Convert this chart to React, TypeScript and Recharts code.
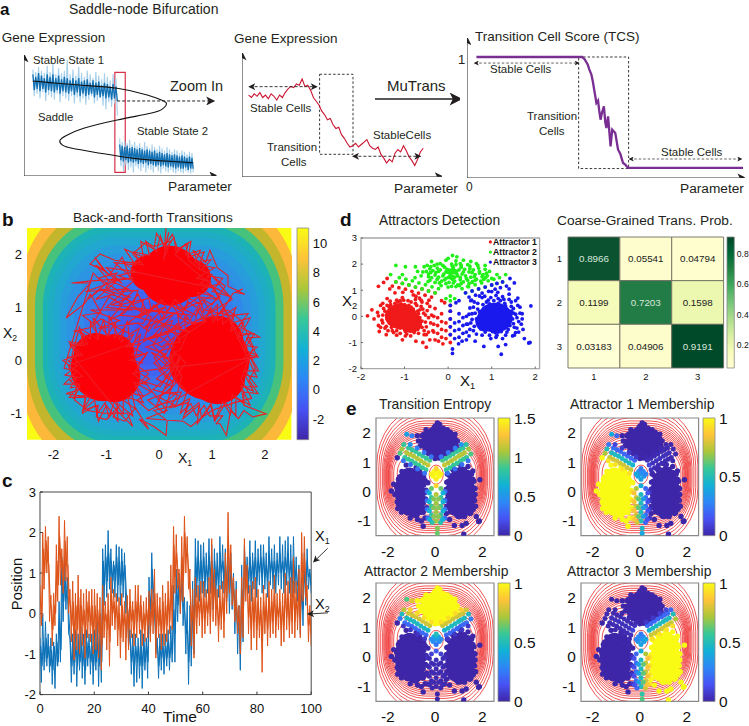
import React from "react";
import { ReferenceArea, Scatter, ScatterChart, XAxis, YAxis } from "recharts";

// panel a
const sCurve = [
  [4.6, 78.5], [15, 77], [30, 75], [48.4, 72.5], [64, 67], [71, 63], [74, 60], [72, 55.5], [65.7, 51.8], [48.4, 46.3],
  [31, 39.4], [22, 33.5], [18.6, 29.2], [20, 25.5], [25, 22.9], [39.7, 18.8], [57, 14.6], [75, 12.2], [87.9, 11],
];
const stateOneLight = [88, 66, 86, 68, 90, 64, 87, 69, 85, 62, 91, 67, 86, 65, 93, 63, 84, 68, 89, 61, 85, 66, 87, 64, 96, 62, 84, 66, 88, 60, 83, 65, 90, 61, 85, 64, 82, 59, 87, 63, 84, 66, 81, 60, 86, 62, 83, 65, 80, 58, 85, 55, 82, 61, 79, 57, 84, 60, 81, 50];
const stateOneDark = [84, 71, 82, 72, 85, 70, 83, 72, 81, 69, 84, 71, 82, 70, 84, 69, 81, 71, 83, 68, 80, 70, 82, 69, 81, 68, 79, 70, 81, 67, 79, 69, 81, 66, 78, 68, 79, 66, 80, 67, 77, 68, 79, 65, 77, 67, 78, 65, 75, 66, 77, 64, 76, 65, 74, 63, 76, 64, 74, 62];
const stateTwoLight = [31, 8, 28, 4, 29, 9, 27, 5, 30, 7, 26, 3, 28, 8, 25, 6, 27, 4, 24, 7, 28, 3, 25, 6, 23, 5, 26, 3, 24, 7, 22, 4, 25, 2, 23, 6, 21, 4, 24, 3, 22, 5, 20, 3, 22, 2, 21, 4, 19, 3, 21, 2, 20, 4, 18, 3, 20, 2, 19, 3];
const stateTwoDark = [26, 13, 25, 12, 24, 13, 25, 11, 23, 12, 24, 11, 23, 12, 22, 10, 23, 11, 22, 10, 21, 11, 22, 9, 21, 10, 20, 9, 21, 8, 19, 9, 20, 8, 19, 9, 18, 8, 19, 7, 18, 8, 17, 7, 18, 6, 17, 7, 16, 6, 17, 6, 16, 7, 15, 5, 16, 6, 15, 6];
const geneTrace = [66, 64, 67, 65, 68, 64, 66, 63, 67, 65, 62, 66, 64, 68, 71, 73, 72, 75, 74, 79, 73, 74, 70, 64, 61, 58, 53, 50, 46, 47, 42, 39, 40, 34, 31, 27, 24, 25, 27, 24, 26, 28, 30, 25, 23, 22, 24, 18, 15, 11, 14, 12, 19, 22, 20, 25, 21, 16, 13, 9, 14, 20, 23];
const tcsX = [3.4, 40.2, 41.5, 42.4, 43.5, 44, 44.8, 45.3, 46, 46.6, 47.2, 47.6, 48.1, 48.6, 49.3, 49.8, 50.2, 50.8, 51.2, 51.7, 52.3, 53.4, 54.4, 55.2, 56.2, 57, 58, 99.4];
const tcsY = [1, 1, 1, 0.98, 0.937, 0.9, 0.854, 0.8, 0.702, 0.62, 0.64, 0.56, 0.482, 0.54, 0.592, 0.46, 0.413, 0.51, 0.4, 0.262, 0.4, 0.372, 0.234, 0.2, 0.124, 0.11, 0.083, 0.083];

// panel b
const bandHalfX = [2.66, 2.5, 2.35, 2.2, 2.1, 2.0, 1.88, 1.75, 1.6, 1.42, 1.22, 1.0, 0.75, 0.45];
const bandHalfY = [2.62, 2.4, 2.2, 2.05, 1.93, 1.82, 1.68, 1.52, 1.35, 1.18, 1.0, 0.8, 0.6, 0.35];
const bandColors = ["#fbb83a", "#c3b52c", "#47c27c", "#1db3b6", "#1eadc3", "#21a7d0", "#279edb", "#2c94e3", "#3089ea", "#367cee", "#3b70f1", "#4065f2", "#435cf0", "#4654ee"];
const potentialTicks = [-2, 0, 2, 4, 6, 8, 10];
const blobs = [
  { x: -1.05, y: -0.15, r: 33 }, { x: -0.85, y: -0.3, r: 26 }, { x: -1.2, y: 0.1, r: 22 }, { x: -0.85, y: 0.12, r: 20 },
  { x: 0.95, y: 0, r: 40 }, { x: 1.1, y: -0.3, r: 28 }, { x: 1.1, y: 0.35, r: 26 }, { x: 0.65, y: -0.1, r: 24 },
  { x: 0.2, y: 1.6, r: 30 }, { x: -0.2, y: 1.65, r: 18 }, { x: 0.62, y: 1.55, r: 19 }, { x: 0.15, y: 1.9, r: 14 },
];
const trajectory = [
  [0.13, 2.52], [0.1, 2.1], [0.18, 2.42], [0.08, 1.9], [0.22, 2.25], [-0.1, 2.15], [-0.25, 2.23], [-0.5, 2.01], [-0.3, 1.8], [-0.84, 1.89],
  [-1.12, 2.01], [-1.31, 1.82], [-1.05, 1.7], [-1.22, 1.95], [-0.95, 1.6], [-0.7, 1.95], [-0.55, 1.55], [-1.28, 1.5], [-1.66, 1.46], [-1.3, 1.46],
  [-1.54, 1.2], [-1.76, 0.8], [-1.41, 1.07], [-1.3, 1.25], [-1.1, 0.9], [-1.45, 0.85], [-1.25, 0.7], [-0.95, 1.2], [-0.7, 1.05], [-0.95, 0.75],
  [-0.65, 0.9], [-0.4, 1.25], [-0.25, 0.95], [-0.6, 0.7], [-0.3, 0.7], [-0.1, 1.05], [0.1, 0.85], [-0.1, 0.6], [0.25, 0.75], [0.15, 0.5],
  [-0.2, 0.4], [0.05, 0.25], [0.3, 0.45], [0.1, 0.05], [-0.15, 0.15], [0.2, -0.15], [-0.05, -0.35], [0.25, -0.5], [0, -0.7], [0.3, -0.85],
  [-0.1, -0.95], [0.15, -1.14], [0.13, -1.42], [-0.1, -1.25], [-0.38, -1.11], [-0.2, -1.3], [-0.45, -0.9], [-0.65, -1.15], [-0.87, -1.07], [-0.75, -0.85],
  [-1.0, -1.12], [-1.19, -1.07], [-1.15, -0.85], [-1.45, -0.95], [-1.3, -0.7], [-1.76, -0.63], [-1.5, -0.55], [-1.69, -0.38], [-1.45, -0.3], [-1.82, 0],
  [-1.55, 0.1], [-1.69, 0.31], [-1.48, 0.3], [-1.44, 0.5], [-1.6, 0.55], [-1.3, 0.62], [-1.1, 0.78], [-0.8, 0.62], [-0.55, 0.5], [-0.38, 0.6],
  [-0.5, 0.25], [-0.25, 0.1], [-0.42, -0.1], [-0.2, -0.25], [-0.4, -0.45], [-0.15, -0.6], [-0.42, -0.75], [-0.2, -0.95], [0.1, -0.8], [0.35, -0.6],
  [0.42, -0.3], [0.2, 0.1], [0.4, 0.2], [0.55, 0.55], [0.3, 0.62], [0.55, 0.8], [0.3, 1.05], [0.7, 0.85], [0.85, 1.12], [1.05, 0.8],
  [1.2, 0.94], [1.39, 1.26], [1.58, 1.35], [1.45, 1.28], [1.62, 1.25], [1.3, 1.4], [1.3, 1.6], [1.1, 1.75], [0.96, 2.08], [0.88, 1.85],
  [0.64, 2.08], [0.78, 1.7], [0.55, 1.9], [0.5, 2.2], [0.3, 2.0], [0.95, 1.45], [1.15, 1.2], [0.85, 0.95], [1.35, 0.85], [1.68, 0.88],
  [1.5, 0.65], [1.9, 0.44], [1.65, 0.42], [1.87, 0.06], [1.7, 0.1], [1.82, -0.15], [1.7, -0.38], [1.87, -0.63], [1.6, -0.6], [1.6, -0.85],
  [2.02, -1.01], [1.77, -1.07], [1.6, -0.95], [1.5, -1.1], [1.35, -0.95], [1.27, -1.42], [1.15, -1.2], [1.08, -1.2], [1.2, -1.05], [0.95, -1.05],
  [0.85, -0.85], [0.7, -1.05], [0.6, -0.82], [0.4, -1.0], [0.52, -0.6], [0.3, -0.35], [0.5, -0.05], [0.32, 0.12], [0.05, -0.15], [-0.1, 0.05],
  [0.18, 0.32], [-0.05, 0.5], [-0.3, 0.35], [-0.15, 0.82], [-0.4, 0.95], [-0.7, 1.25], [-0.9, 1.4], [-1.15, 1.55], [-0.8, 1.65], [-1.05, 1.3],
  [-0.5, 1.1], [-0.75, 0.85], [-0.35, 0.82], [0.05, 1.1], [0.4, 0.95], [0.75, 1.2], [1.0, 1.05], [1.25, 1.4], [1.0, 1.6], [1.38, 1.15],
  [0.6, 0.68], [0.9, 0.75], [0.38, 0.4], [0.12, 0.68], [-0.12, 0.28], [0.28, -0.1], [0.02, -0.5], [-0.28, -0.4], [0.15, -0.95], [-0.25, -1.1],
  [0.45, -1.15], [0.6, -1.25], [0.78, -1.1], [1.0, -0.95], [1.42, -0.8], [1.75, -0.72], [1.55, -0.35], [1.78, 0.25], [1.55, 0.75], [1.3, 0.95],
  [-1.72, -0.1], [-1.55, -0.45], [-1.6, -0.75], [-1.35, -0.95], [-1.05, -1.0], [-0.6, -1.0], [-0.5, -1.25], [-0.8, -0.95], [-1.65, 0.1], [-1.5, 0.65],
];
const trajectoryRim = [
  [-1.75, 0.05], [-1.45, 0.1], [-1.7, 0.35], [-1.35, 0.3], [-1.5, 0.6], [-1.15, 0.4], [-1.25, 0.8], [-0.95, 0.45], [-0.95, 0.85], [-0.75, 0.4],
  [-0.6, 0.75], [-0.55, 0.25], [-0.35, 0.5], [-0.45, 0.05], [-0.22, 0.15], [-0.45, -0.2], [-0.18, -0.35], [-0.45, -0.5], [-0.3, -0.8], [-0.6, -0.7],
  [-0.5, -1.05], [-0.8, -0.8], [-0.78, -1.15], [-1, -0.85], [-1.15, -1.15], [-1.2, -0.85], [-1.45, -1], [-1.4, -0.7], [-1.7, -0.7], [-1.5, -0.45],
  [-1.8, -0.45], [-1.55, -0.2], [-1.8, -0.15], [-1.25, 1.65], [-0.85, 1.25], [-1.2, 1.15], [-0.8, 1.5], [-1.4, 1.3], [-0.6, 1.35], [-1.0, 1.0],
  [-0.5, 0.95], [-1.3, 0.95], [-0.75, 0.75], [-1.15, 0.6], [-0.4, 0.7], [-0.2, 0.55], [-0.05, 0.78], [0.2, 0.55], [0.35, 0.7], [0.05, 0.35],
  [-0.25, 0.25], [0.12, 0.12], [-0.1, -0.05], [0.18, -0.3], [-0.12, -0.55], [0.12, -0.62], [-0.22, -0.75], [0.1, -1.0], [0.4, 0.1], [-0.05, -0.85],
  [0.3, -0.75], [1.85, 0.1], [1.6, 0.2], [1.8, 0.5], [1.55, 0.5], [1.72, 0.8], [1.35, 0.7], [1.45, 1], [1.1, 0.75], [1.1, 1.05],
  [0.85, 0.78], [0.75, 1.05], [0.55, 0.7], [0.35, 0.85], [0.4, 0.5], [0.12, 0.55], [0.28, 0.25], [0.02, 0.18], [0.25, -0.05], [0, -0.2],
  [0.25, -0.4], [0.05, -0.6], [0.35, -0.65], [0.2, -0.9], [0.55, -0.8], [0.45, -1.1], [0.75, -0.85], [0.72, -1.2], [0.98, -0.85], [1.05, -1.15],
  [1.25, -0.8], [1.45, -1.05], [1.45, -0.7], [1.72, -0.85], [1.55, -0.5], [1.85, -0.5], [1.62, -0.2], [1.88, -0.2], [0.95, 1.5], [0.7, 1.55],
  [1.05, 1.75], [0.75, 1.8], [0.85, 2.05], [0.55, 1.95], [0.6, 2.25], [0.35, 2.1], [0.25, 2.38], [0.1, 2.15], [-0.05, 2.4], [-0.1, 2.1],
  [-0.35, 2.25], [-0.3, 1.95], [-0.65, 2.1], [-0.45, 1.8], [-0.85, 1.85], [-0.5, 1.55], [-0.9, 1.5], [-0.5, 1.3], [-0.75, 1.05], [-0.3, 1.15],
  [-0.35, 0.85], [-0.05, 1.05], [0.05, 0.75], [0.25, 1.05], [0.4, 0.8], [0.55, 1.1], [0.85, 0.9], [0.75, 1.2], [1.1, 1.15], [0.8, 1.35], [1.15, 1.45],
];
const trajectoryFringe = [
  [-0.3, -0.05], [-0.55, 0], [-0.28, 0.12], [-0.52, 0.1], [-0.35, 0.32], [-0.62, 0.25], [-0.48, 0.5], [-0.72, 0.35], [-0.65, 0.62], [-0.85, 0.42],
  [-0.82, 0.72], [-1, 0.45], [-1.05, 0.78], [-1.15, 0.45], [-1.3, 0.72], [-1.3, 0.4], [-1.5, 0.55], [-1.42, 0.28], [-1.68, 0.28], [-1.52, 0.12],
  [-1.72, -0.02], [-1.55, -0.1], [-1.78, -0.28], [-1.55, -0.32], [-1.68, -0.52], [-1.5, -0.5], [-1.62, -0.72], [-1.38, -0.65], [-1.42, -0.92], [-1.22, -0.75],
  [-1.18, -1.02], [-1.02, -0.8], [-0.95, -1.08], [-0.85, -0.78], [-0.68, -1.02], [-0.68, -0.75], [-0.45, -0.92], [-0.52, -0.62], [-0.3, -0.68], [-0.48, -0.42],
  [-0.25, -0.45], [-0.5, -0.25], [-0.3, -0.2], [1.82, 0.05], [1.58, 0.02], [1.85, 0.25], [1.6, 0.28], [1.72, 0.52], [1.48, 0.42], [1.6, 0.72],
  [1.35, 0.55], [1.42, 0.88], [1.2, 0.68], [1.2, 0.98], [1.02, 0.72], [0.98, 1], [0.85, 0.75], [0.72, 0.95], [0.68, 0.68], [0.48, 0.82],
  [0.5, 0.55], [0.28, 0.6], [0.4, 0.35], [0.16, 0.3], [0.33, 0.12], [0.08, 0.02], [0.28, -0.18], [0.1, -0.32], [0.32, -0.42], [0.15, -0.62],
  [0.42, -0.6], [0.3, -0.88], [0.58, -0.72], [0.5, -1], [0.75, -0.8], [0.8, -1.08], [0.98, -0.82], [1.05, -1.12], [1.2, -0.78], [1.35, -1.02],
  [1.38, -0.65], [1.6, -0.82], [1.55, -0.48], [1.78, -0.58], [1.62, -0.28], [1.85, -0.32], [1.02, 1.4], [0.78, 1.45], [1, 1.62], [0.8, 1.7],
  [0.98, 1.9], [0.68, 1.85], [0.78, 2.08], [0.5, 2], [0.55, 2.22], [0.32, 2.05], [0.28, 2.32], [0.12, 2.1], [0.02, 2.35], [-0.05, 2.05],
  [-0.25, 2.25], [-0.18, 1.98], [-0.48, 2.05], [-0.35, 1.85], [-0.68, 1.85], [-0.45, 1.68], [-0.78, 1.6], [-0.48, 1.5], [-0.72, 1.3], [-0.4, 1.32],
  [-0.5, 1.05], [-0.2, 1.18], [-0.15, 0.95], [0.05, 1.15], [0.15, 0.92], [0.3, 1.15], [0.5, 0.95], [0.55, 1.18], [0.8, 1.05], [0.72, 1.28],
  [1, 1.22], [-0.3, 0.6], [0.1, 1], [-0.45, 0.82], [0.42, 0.62], [-0.15, 0.42], [0.28, 0.88], [-0.62, 0.98], [0.62, 0.85], [-0.9, 1.05],
  [-0.55, 1.2], [-1.1, 1.35], [-1.35, 1.15], [-0.95, 1.5], [-1.2, 1.8], [-0.7, 1.45], [-1, 1.75], [-0.6, 1.7], [1.1, 1.35], [1.35, 1.2],
  [1, 1.3], [1.2, 1.55], [0.9, 1.6],
];

// panel c: two envelope readings per time step, then the tighter inner band
const x1Trace = [
  -0.6, -1.7, 0, -1.4, -0.2, -1.3, -0.5, -1.45, -0.6, -1.75, -0.7, -1.85, -0.5, -1.3, 0.3, -1.2, 1.4, -0.2, 1.25, 0.1,
  0.9, -0.5, -0.6, -1.7, -0.5, -1.5, -0.4, -1.8, -0.5, -1.4, -0.3, -1.6, -0.5, -1.75, -0.4, -1.3, -0.5, -1.5, -0.5, -1.75,
  -0.4, -1.4, -0.2, -1.8, -0.3, -1.7, 1.6, 0.2, 1.7, 0.4, 2.05, 0.6, 1.6, 0.5, 1.3, 0.4, 1.7, 0.3, 1.65, 0.2,
  1.6, 0.4, 1.5, 0, 0.4, -0.8, -0.4, -1.5, -0.5, -1.8, -0.5, -1.7, -0.6, -1.6, -0.4, -1.85, -0.5, -1.4, -0.6, -1.6,
  0.9, -0.5, 1.5, 0.2, 0.3, -1, -0.6, -1.6, -0.5, -1.4, -0.5, -1.5, -0.5, -1.3, -0.4, -1.4, -0.3, -1.2, 0.7, -1.2,
  1.1, -0.2, 1, 0, 1.2, -0.3, 0.4, -1, 0.3, -1.75, 0.2, -1.3, 0.8, -1, 1.85, 0.4, 1.8, 0.3, 1.7, 0.5,
  1.75, 0.4, 1.5, 0.5, 1.85, 0.5, 1.7, 0.1, 1.6, 0.3, 1.5, 0.4, 1.9, 0.6, 1.7, 0.5, 1.6, 0.3, 1.4, 0,
  1.5, 0.1, 1, -0.5, 0.8, -1, 0.2, -1.4, 1.2, -0.7, 1.7, 0.6, 1.4, 0.5, 1.8, 0.3, 1.5, 0.6, 1.8, 0.4,
  1.6, 0.7, 1.7, 0.5, 1.7, 0.6, 1.5, 0.4, 1.9, 0.7, 1.6, 0.6, 1.7, 0.5, 1.5, 0.7, 1.9, 0.6, 1.7, 0.5,
  1.8, 0.7, 1.9, 0.5, 1.7, 0.4, 1.9, 0.5, 1.4, 0.3, 1.2, -0.5, 0.9, -0.3, 1.5, 0.2, 1.6, 0.6, 1.1, 0.5,
];
const x1Inner = [
  -0.8, -1.3, -0.7, -1.2, -0.6, -1.1, -0.8, -1.3, -0.9, -1.4, -0.8, -1.3, -0.7, -1.2, -0.2, -0.9, 0.9, 0.3, 0.9, 0.4,
  0.4, -0.2, -0.8, -1.3, -0.7, -1.2, -0.8, -1.3, -0.8, -1.2, -0.7, -1.3, -0.8, -1.4, -0.7, -1.1, -0.8, -1.2, -0.8, -1.3,
  -0.7, -1.2, -0.7, -1.3, -0.7, -1.2, 1.3, 0.7, 1.4, 0.8, 1.5, 0.9, 1.3, 0.8, 1.2, 0.8, 1.4, 0.7, 1.3, 0.7,
  1.3, 0.8, 1.2, 0.5, 0.1, -0.4, -0.7, -1.2, -0.8, -1.3, -0.8, -1.2, -0.8, -1.3, -0.8, -1.3, -0.7, -1.2, -0.8, -1.2,
  0.5, 0.1, 1.1, 0.6, -0.1, -0.6, -0.8, -1.3, -0.8, -1.1, -0.8, -1.2, -0.8, -1.1, -0.7, -1.1, -0.7, -1, 0.1, -0.5,
  0.7, 0.2, 0.7, 0.3, 0.8, 0.2, 0, -0.5, -0.4, -1.2, -0.3, -0.9, 0.2, -0.4, 1.4, 0.8, 1.4, 0.8, 1.3, 0.8,
  1.4, 0.8, 1.2, 0.8, 1.4, 0.9, 1.3, 0.6, 1.3, 0.7, 1.2, 0.7, 1.5, 1, 1.3, 0.9, 1.2, 0.7, 1, 0.5,
  1.1, 0.6, 0.6, 0.1, 0.2, -0.4, -0.4, -1, 0.6, 0, 1.4, 0.9, 1.2, 0.8, 1.4, 0.8, 1.3, 0.9, 1.4, 0.8,
  1.3, 1, 1.4, 0.9, 1.4, 0.9, 1.2, 0.8, 1.5, 1, 1.3, 0.9, 1.3, 0.9, 1.3, 1, 1.5, 1, 1.3, 0.9,
  1.4, 1, 1.5, 0.9, 1.3, 0.8, 1.4, 0.9, 1.1, 0.7, 0.7, 0, 0.5, 0.1, 1.1, 0.6, 1.3, 0.9, 1, 0.7,
];
const x2Trace = [
  0.7, -0.3, 2, 0.6, 2.15, 1, 1.9, -0.2, 0.45, -0.8, 0.5, -0.3, 1.7, 0.3, 2.4, 0.7, 1.6, 0.5, 2.3, 0.8,
  1.9, 0, 0.6, -0.7, 0.8, -1.15, 0.5, -0.9, 0.95, -1, 0.6, -0.8, 0.5, -1.1, 0.6, -0.6, 0.55, -0.7, 0.6, -1,
  0.6, -0.9, 0.5, -1.1, 0.4, -1.4, 0.7, -0.6, 0.3, -0.9, 0.5, -1.3, 0.9, -0.3, 0.6, -0.4, 0.5, -0.8, 0.4, -1.1,
  0.5, -0.7, 0.3, -1.15, 0.45, -0.9, 0.6, -0.6, 0.3, -0.8, 0.7, -0.6, 0.7, -0.5, 0.45, -0.8, 0.3, -0.7, 0.4, -0.6,
  0.55, -0.7, 0.6, -0.5, 1.1, -1.1, 0.5, -0.6, 0.4, -0.9, 0.7, -0.8, 0.5, -0.7, 0.8, -0.5, 1.2, -0.4, 2.15, 0.5,
  1.95, 0.6, 1.1, 0, 1.9, 0.3, 2.4, 1, 1.9, 0.6, 1.1, -0.8, 0.6, -1.1, 0.9, -0.5, 0.7, -0.3, 0.8, -0.6,
  0.8, -0.5, 0.6, -0.3, 0.9, -0.5, 1.85, -0.2, 1.1, -0.3, 0.6, -0.7, 0.7, -0.4, 0.8, -0.6, 1.5, 0, 2.5, 0.5,
  1.7, 0.2, 0.9, -0.2, 0.6, -0.5, 0.2, -1, 0.9, -0.6, 1.85, 0.3, 1.2, -0.5, 0.7, -0.9, 0.8, -0.6, 0.9, -0.9,
  0.6, -0.6, 0.4, -1.45, 0.7, -0.5, 0.5, -0.8, 0.8, -0.6, 0.6, -0.5, 0.95, -0.6, 0.5, -0.4, 0.6, -0.8, 0.5, -0.7,
  1, -0.4, 0.8, -0.6, 0.9, -0.5, 1.4, -0.6, 0.8, -0.4, 1.1, -0.6, 2, 0.3, 1.9, 0.4, 0.7, -0.7, 0.2, -0.8,
];
const x2Inner = [
  0.3, -0.1, 1.6, 1, 1.8, 1.3, 1.2, 0.3, 0.1, -0.4, 0.2, 0, 1.3, 0.7, 1.9, 1.1, 1.3, 0.8, 1.8, 1.2,
  1.2, 0.4, 0.2, -0.3, 0.3, -0.6, 0.2, -0.4, 0.4, -0.5, 0.2, -0.3, 0.1, -0.5, 0.3, -0.2, 0.2, -0.3, 0.2, -0.5,
  0.2, -0.4, 0.1, -0.5, 0, -0.8, 0.3, -0.2, 0, -0.4, 0.1, -0.7, 0.5, 0, 0.3, -0.1, 0.2, -0.4, 0, -0.6,
  0.2, -0.3, 0, -0.6, 0.1, -0.4, 0.3, -0.2, 0.1, -0.4, 0.3, -0.2, 0.3, -0.2, 0.2, -0.4, 0, -0.3, 0.1, -0.3,
  0.2, -0.3, 0.3, -0.2, 0.5, -0.5, 0.2, -0.3, 0.1, -0.5, 0.3, -0.4, 0.2, -0.3, 0.4, -0.2, 0.7, 0, 1.7, 0.9,
  1.5, 1, 0.7, 0.3, 1.4, 0.8, 2, 1.4, 1.5, 1, 0.5, -0.2, 0.2, -0.6, 0.5, -0.1, 0.3, 0, 0.4, -0.2,
  0.4, -0.1, 0.3, 0, 0.5, -0.1, 1.2, 0.3, 0.7, 0.1, 0.2, -0.3, 0.3, -0.1, 0.4, -0.2, 1, 0.4, 1.9, 1,
  1.2, 0.6, 0.5, 0.1, 0.2, -0.2, -0.1, -0.6, 0.4, -0.2, 1.4, 0.7, 0.7, -0.1, 0.3, -0.4, 0.4, -0.2, 0.4, -0.4,
  0.3, -0.3, 0.1, -0.7, 0.3, -0.2, 0.2, -0.4, 0.4, -0.3, 0.3, -0.2, 0.5, -0.3, 0.2, -0.1, 0.3, -0.4, 0.2, -0.3,
  0.6, -0.1, 0.4, -0.3, 0.5, -0.2, 0.8, -0.2, 0.4, -0.1, 0.6, -0.2, 1.5, 0.7, 1.4, 0.8, 0.3, -0.3, -0.1, -0.5,
];

// panels d and e: cell positions
const cellsA1 = [
  [-1.85, 0.02], [-1.75, 0.25], [-1.7, -0.1], [-1.62, 0.15], [-1.6, -0.35], [-1.58, -0.58], [-1.55, 0.42], [-1.52, -0.15], [-1.5, 0.05], [-1.48, 0.3],
  [-1.45, -0.45], [-1.42, -0.7], [-1.6, 1.15], [-1.4, 0.68], [-1.38, 0.12], [-1.35, -0.25], [-1.32, 0.45], [-1.3, -0.05], [-1.28, -0.55], [-1.25, 0.25],
  [-1.22, 0.9], [-1.22, -0.3], [-1.2, 0.05], [-1.18, -0.72], [-1.15, 0.55], [-1.15, -0.12], [-1.12, 0.32], [-1.1, -0.45], [-1.08, 0.12], [-1.05, -0.9],
  [-1.05, 0.72], [-1.03, -0.22], [-1, 0.45], [-1, 0.02], [-0.98, -0.58], [-0.96, 0.22], [-0.95, -0.08], [-0.92, 0.6], [-0.9, -0.35], [-0.88, 0.1],
  [-0.86, -0.75], [-0.85, 0.35], [-0.82, -0.18], [-0.8, 0.82], [-0.8, -0.48], [-0.78, 0.05], [-0.75, 0.5], [-0.74, -0.95], [-0.72, -0.28], [-0.7, 0.2],
  [-0.68, -0.65], [-0.66, 0.7], [-0.65, -0.05], [-0.62, 0.38], [-0.6, -0.42], [-0.58, -1], [-0.56, 0.12], [-0.52, -0.22], [-0.5, -1.18], [-0.5, -0.7],
  [-0.48, 0.5], [-0.45, -0.05], [-0.42, -0.9], [-1.25, -0.15], [-1.2, 0.4], [-1.1, -0.02], [-1.1, 0.6], [-1.05, 0.2], [-1.02, -0.4], [-0.95, 0.32],
  [-0.9, -0.2], [-0.9, 0.42], [-0.85, -0.05], [-0.82, 0.22], [-0.78, -0.32], [-0.72, 0.05], [-0.7, -0.15], [-0.65, 0.25], [-1.35, 0.35], [-1.18, -0.55],
  [-0.98, -0.75], [-0.75, 0.65], [-1.4, -0.1], [-1.3, 0.18], [-1.15, 0.2], [-1, -0.15], [-0.92, 0.02], [-0.8, 0.12], [-0.55, -0.55], [-0.6, 0.55],
  [-1.5, -0.25], [-1.45, 0.2], [-1.42, -0.38], [-1.4, 0.42], [-1.38, -0.55], [-1.35, -0.1], [-1.33, 0.58], [-1.3, -0.42], [-1.28, 0.3], [-1.25, -0.62],
  [-1.22, 0.5], [-1.2, -0.2], [-1.18, 0.62], [-1.15, -0.42], [-1.12, 0.15], [-1.1, -0.65], [-1.08, 0.48], [-1.05, -0.12], [-1.02, 0.62], [-1, -0.5],
  [-0.98, 0.12], [-0.95, -0.68], [-0.92, 0.35], [-0.9, -0.1], [-0.88, -0.55], [-0.85, 0.55], [-0.82, -0.38], [-0.8, 0.28], [-0.78, -0.62], [-0.75, -0.15],
  [-0.72, 0.42], [-0.7, -0.5], [-0.68, 0.1], [-0.65, -0.35], [-0.62, 0.62], [-0.6, -0.18], [-0.58, 0.28], [-0.55, -0.7], [-0.52, 0.05], [-0.5, -0.4],
  [-0.48, 0.22], [-0.45, -0.6], [-0.42, 0.38], [-0.4, -0.25], [-0.38, 0.05], [-0.35, -0.55], [-1.6, 0.02], [-1.55, -0.42], [-1.5, 0.5], [-0.3, 0.3],
];
const cellsA2 = [
  [0.1, 2.33], [0.2, 2.28], [0, 2.22], [-0.05, 2.15], [0.18, 2.12], [0.35, 2.15], [0.52, 2.1], [-0.38, 2.1], [-0.32, 1.95], [-0.18, 2.02],
  [0.08, 2], [0.28, 2.02], [0.45, 1.98], [0.65, 2.02], [-0.55, 1.9], [-0.42, 1.82], [-0.25, 1.85], [-0.08, 1.88], [0.12, 1.85], [0.3, 1.88],
  [0.5, 1.82], [0.7, 1.85], [0.85, 1.8], [-0.7, 1.72], [-0.58, 1.7], [-0.4, 1.68], [-0.22, 1.72], [-0.05, 1.7], [0.15, 1.72], [0.35, 1.7],
  [0.55, 1.68], [0.72, 1.66], [-0.62, 1.55], [-0.45, 1.52], [-0.3, 1.58], [-0.12, 1.55], [0.05, 1.58], [0.22, 1.55], [0.4, 1.55], [0.6, 1.52],
  [0.78, 1.52], [-0.42, 1.38], [-0.25, 1.42], [-0.08, 1.4], [0.1, 1.42], [0.28, 1.4], [0.45, 1.38], [0.62, 1.38], [-0.2, 1.28], [-0.05, 1.25],
  [0.12, 1.28], [0.3, 1.26], [0.48, 1.25], [0, 1.12], [0.18, 1.14], [0.88, 1.65], [-0.75, 1.9], [0.85, 1.95],
  [-0.5, 1.72], [-0.48, 1.95], [-0.45, 1.62], [-0.4, 1.9], [-0.38, 1.48], [-0.35, 1.75], [-0.3, 1.3], [-0.28, 1.68], [-0.25, 2], [-0.22, 1.5],
  [-0.18, 1.78], [-0.15, 1.35], [-0.12, 1.95], [-0.1, 1.62], [-0.05, 1.45], [-0.02, 1.8], [0.02, 1.3], [0.05, 1.68], [0.08, 1.15], [0.1, 1.92],
  [0.12, 1.5], [0.15, 1.35], [0.18, 1.98], [0.2, 1.62], [0.22, 1.2], [0.25, 1.78], [0.28, 1.48], [0.3, 1.95], [0.32, 1.62], [0.35, 1.32],
  [0.38, 1.8], [0.42, 1.45], [0.45, 1.15], [0.48, 1.7], [0.5, 1.92], [0.52, 1.5], [0.55, 1.3], [0.58, 1.78], [0.62, 1.6], [0.65, 1.42],
  [0.68, 1.95], [0.72, 1.72], [0.75, 1.35], [0.8, 1.6], [0.82, 1.42], [0.9, 1.55], [0.95, 1.72], [1, 1.45],
];
const cellsA3 = [
  [1.9, 0.4], [1.85, -1.02], [1.88, -1], [1.72, -0.5], [1.7, 0.1], [1.65, 0.35], [1.62, -0.2], [1.6, 0.7], [1.58, -0.45], [1.55, 0.08],
  [1.52, -0.72], [1.5, 0.3], [1.48, -0.1], [1.45, 0.55], [1.42, -0.35], [1.4, 0.85], [1.38, 0.12], [1.35, -0.6], [1.32, 0.4], [1.3, -0.18],
  [1.28, 0.65], [1.25, -0.85], [1.25, 0.02], [1.22, -1.45], [1.2, 0.25], [1.18, -0.42], [1.15, 0.5], [1.15, -1.15], [1.12, -0.1], [1.1, 0.8],
  [1.08, -0.62], [1.05, 0.15], [1.02, -0.3], [1, 0.38], [1, 0.95], [0.98, -0.85], [0.95, -0.02], [0.92, 0.62], [0.9, -0.5], [0.88, 0.2],
  [0.85, -0.18], [0.82, -1.15], [0.8, 0.45], [0.78, -0.72], [0.75, 0.05], [0.72, 0.78], [0.7, -0.35], [0.68, 0.28], [0.65, -0.1], [0.62, -0.95],
  [0.6, 0.55], [0.58, -0.55], [0.55, 0.1], [0.52, -0.25], [0.5, 0.32], [0.48, -0.75], [1.35, -0.28], [1.3, 0.22], [1.22, -0.3], [1.18, 0.05],
  [1.12, 0.3], [1.08, -0.2], [1.05, 0.45], [1.02, 0.1], [0.98, -0.15], [0.95, 0.28], [0.9, -0.05], [0.85, 0.1], [1.4, -0.05], [1.45, 0.2],
  [1.5, -0.28], [1.28, -0.45], [1.15, -0.6], [1.2, 0.6], [0.95, 0.48], [1.55, -0.62], [1.75, -0.85], [1.1, -0.8], [1.32, -1.08], [1.7, -0.1],
  [1.68, -0.3], [1.65, 0.12], [1.62, -0.6], [1.6, 0.42], [1.58, -0.05], [1.55, 0.6], [1.52, -0.42], [1.5, 0.12], [1.48, -0.75], [1.45, 0.38],
  [1.42, -0.18], [1.4, 0.65], [1.38, -0.5], [1.35, 0.2], [1.32, -0.72], [1.3, 0.5], [1.28, -0.08], [1.25, 0.75], [1.22, -0.58], [1.2, 0.12],
  [1.18, -0.25], [1.15, 0.68], [1.12, -0.72], [1.1, 0.2], [1.08, -0.42], [1.05, 0.6], [1.02, -0.58], [1, 0.02], [0.98, 0.72], [0.95, -0.72],
  [0.92, 0.15], [0.9, -0.32], [0.88, 0.55], [0.85, -0.6], [0.82, 0.3], [0.8, -0.05], [0.78, 0.72], [0.75, -0.48], [0.72, 0.18], [0.7, -0.2],
  [0.68, 0.5], [0.65, -0.68], [0.62, 0.12], [0.6, -0.38], [0.58, 0.35], [0.55, -0.12], [0.52, 0.6], [0.5, -0.5], [0.48, 0.08], [0.45, -0.3],
];
// solid core of each basin: x, y, half width, half height
const coreA1 = [[-1.08, 0, 0.62, 0.82], [-0.85, -0.25, 0.42, 0.65]];
const coreA2 = [[0.08, 1.72, 0.62, 0.5], [0.08, 1.5, 0.45, 0.35]];
const coreA3 = [[1.08, -0.05, 0.62, 0.88], [0.85, -0.2, 0.35, 0.6]];
// how much of that core stays solid in the sparser panel d scatter
const coreShrink = [0.6, 0.25, 0.65];
// arm cells: x, y, membership 1, 2, 3, entropy
const leftArm = [
  [-0.3, 0.9, 0.45, 0.45, 0.1, 1.15], [-0.6, 1.05, 0.48, 0.48, 0.04, 1.1], [-0.9, 1.2, 0.48, 0.48, 0.04, 1.1], [-1.2, 1.32, 0.48, 0.48, 0.04, 1.1], [-1.4, 1.45, 0.5, 0.48, 0.02, 1.05],
  [-0.22, 1.06, 0.2, 0.76, 0.04, 0.9], [-0.52, 1.21, 0.2, 0.78, 0.02, 0.85], [-0.82, 1.36, 0.2, 0.78, 0.02, 0.85], [-1.12, 1.48, 0.22, 0.76, 0.02, 0.85], [-1.32, 1.6, 0.25, 0.74, 0.01, 0.85],
  [-0.38, 0.74, 0.76, 0.2, 0.04, 0.85], [-0.68, 0.89, 0.78, 0.2, 0.02, 0.85], [-0.98, 1.04, 0.78, 0.2, 0.02, 0.85], [-1.28, 1.16, 0.76, 0.22, 0.02, 0.85], [-1.48, 1.3, 0.72, 0.26, 0.02, 0.9],
  [-0.16, 1.18, 0.06, 0.93, 0.01, 0.35], [-0.46, 1.33, 0.06, 0.93, 0.01, 0.35], [-0.76, 1.48, 0.07, 0.92, 0.01, 0.4], [-1.05, 1.6, 0.1, 0.89, 0.01, 0.5], [-1.2, 1.95, 0.4, 0.6, 0, 0.55],
  [-0.44, 0.62, 0.93, 0.06, 0.01, 0.35], [-0.74, 0.77, 0.94, 0.05, 0.01, 0.33], [-1.04, 0.92, 0.94, 0.05, 0.01, 0.33], [-1.34, 1.05, 0.93, 0.06, 0.01, 0.35], [-0.98, 1.9, 0.2, 0.8, 0, 0.4],
  [-0.45, 0.97, 0.48, 0.48, 0.04, 1.1], [-0.75, 1.12, 0.48, 0.48, 0.04, 1.1], [-1.05, 1.26, 0.48, 0.48, 0.04, 1.1], [-0.37, 1.13, 0.2, 0.78, 0.02, 0.85], [-0.67, 1.28, 0.2, 0.78, 0.02, 0.85],
  [-0.97, 1.42, 0.2, 0.78, 0.02, 0.85], [-0.53, 0.81, 0.78, 0.2, 0.02, 0.85], [-0.83, 0.96, 0.78, 0.2, 0.02, 0.85], [-1.13, 1.1, 0.78, 0.2, 0.02, 0.85],
];
const rightArm = [
  [0.4, 0.9, 0.1, 0.45, 0.45, 1.15], [0.7, 1.05, 0.04, 0.48, 0.48, 1.1], [1, 1.2, 0.04, 0.48, 0.48, 1.1], [1.25, 1.32, 0.04, 0.48, 0.48, 1.1], [1.42, 1.45, 0.02, 0.48, 0.5, 1.05],
  [0.32, 1.06, 0.04, 0.76, 0.2, 0.9], [0.62, 1.21, 0.02, 0.78, 0.2, 0.85], [0.92, 1.36, 0.02, 0.78, 0.2, 0.85], [1.18, 1.48, 0.02, 0.76, 0.22, 0.85], [1.32, 1.6, 0.01, 0.78, 0.21, 0.8],
  [0.48, 0.74, 0.04, 0.2, 0.76, 0.85], [0.78, 0.89, 0.02, 0.2, 0.78, 0.85], [1.08, 1.04, 0.02, 0.2, 0.78, 0.85], [1.34, 1.16, 0.02, 0.22, 0.76, 0.85], [1.52, 1.28, 0.02, 0.26, 0.72, 0.9],
  [0.26, 1.18, 0.01, 0.93, 0.06, 0.35], [0.56, 1.33, 0.01, 0.93, 0.06, 0.35], [0.86, 1.48, 0.01, 0.92, 0.07, 0.4], [1.12, 1.6, 0.01, 0.89, 0.1, 0.5],
  [0.54, 0.62, 0.01, 0.06, 0.93, 0.35], [0.84, 0.77, 0.01, 0.05, 0.94, 0.33], [1.14, 0.92, 0.01, 0.05, 0.94, 0.33], [1.4, 1.05, 0.01, 0.06, 0.93, 0.35],
  [0.55, 0.97, 0.04, 0.48, 0.48, 1.1], [0.85, 1.12, 0.04, 0.48, 0.48, 1.1], [1.12, 1.26, 0.04, 0.48, 0.48, 1.1], [0.47, 1.13, 0.02, 0.78, 0.2, 0.85], [0.77, 1.28, 0.02, 0.78, 0.2, 0.85],
  [1.05, 1.42, 0.02, 0.78, 0.2, 0.85], [0.63, 0.81, 0.02, 0.2, 0.78, 0.85], [0.93, 0.96, 0.02, 0.2, 0.78, 0.85], [1.2, 1.1, 0.02, 0.2, 0.78, 0.85],
];
const bottomArm = [
  [0.05, 0.2, 0.42, 0.16, 0.42, 1.35], [0.05, -0.1, 0.48, 0.04, 0.48, 1.1], [0.05, -0.4, 0.49, 0.02, 0.49, 1.05], [0.05, -0.7, 0.49, 0.02, 0.49, 1.05], [0.05, -1, 0.5, 0.01, 0.49, 1.05],
  [-0.15, 0.1, 0.72, 0.08, 0.2, 0.95], [-0.15, -0.2, 0.76, 0.02, 0.22, 0.85], [-0.15, -0.5, 0.76, 0.02, 0.22, 0.85], [-0.15, -0.8, 0.78, 0.01, 0.21, 0.8], [-0.12, -1.05, 0.78, 0.01, 0.21, 0.8],
  [0.25, 0.1, 0.2, 0.08, 0.72, 0.95], [0.25, -0.2, 0.22, 0.02, 0.76, 0.85], [0.25, -0.5, 0.22, 0.02, 0.76, 0.85], [0.25, -0.8, 0.21, 0.01, 0.78, 0.8], [0.24, -1.05, 0.21, 0.01, 0.78, 0.8],
  [-0.33, 0, 0.93, 0.03, 0.04, 0.35], [-0.33, -0.3, 0.94, 0.01, 0.05, 0.33], [-0.33, -0.6, 0.94, 0.01, 0.05, 0.33], [-0.3, -0.9, 0.94, 0.01, 0.05, 0.33],
  [0.42, 0, 0.04, 0.03, 0.93, 0.35], [0.42, -0.3, 0.05, 0.01, 0.94, 0.33], [0.42, -0.6, 0.05, 0.01, 0.94, 0.33], [0.42, -0.9, 0.05, 0.01, 0.94, 0.33],
  [0.1, -1.25, 0.46, 0, 0.54, 1], [0.1, -1.42, 0.4, 0, 0.6, 0.95],
  [-0.05, -0.25, 0.62, 0.02, 0.36, 1], [-0.05, -0.55, 0.62, 0.02, 0.36, 1], [-0.05, -0.85, 0.62, 0.02, 0.36, 1], [0.15, -0.25, 0.36, 0.02, 0.62, 1], [0.15, -0.55, 0.36, 0.02, 0.62, 1],
  [0.15, -0.85, 0.36, 0.02, 0.62, 1], [-0.24, -0.05, 0.85, 0.02, 0.13, 0.65], [-0.24, -0.35, 0.85, 0.02, 0.13, 0.65], [-0.24, -0.65, 0.85, 0.02, 0.13, 0.65], [-0.22, -0.95, 0.85, 0.02, 0.13, 0.65],
  [0.34, -0.05, 0.13, 0.02, 0.85, 0.65], [0.34, -0.35, 0.13, 0.02, 0.85, 0.65], [0.34, -0.65, 0.13, 0.02, 0.85, 0.65], [0.32, -0.95, 0.13, 0.02, 0.85, 0.65],
];
const hub = [
  [0.05, 0.6, 0.32, 0.36, 0.32, 1.5], [-0.08, 0.52, 0.36, 0.3, 0.34, 1.5], [0.18, 0.52, 0.34, 0.3, 0.36, 1.5], [-0.05, 0.68, 0.3, 0.4, 0.3, 1.48], [0.15, 0.68, 0.3, 0.4, 0.3, 1.48],
  [0.05, 0.42, 0.38, 0.24, 0.38, 1.45], [-0.15, 0.6, 0.4, 0.32, 0.28, 1.45], [0.25, 0.6, 0.28, 0.32, 0.4, 1.45], [0.05, 0.78, 0.25, 0.5, 0.25, 1.35],
];
// membership 1, 2, 3 and entropy of the cells inside each basin
const coreValues = { A1: [1, 0, 0, 0], A2: [0, 1, 0, 0], A3: [0, 0, 1, 0] };

// contour rings shared by the panel e plots
const ringHalfX = [2.47, 2.38, 2.3, 2.22, 2.17, 2.13, 2.09, 2.06, 2.03, 2, 1.97, 1.94, 1.91, 1.87, 1.82, 1.75, 1.6];
const ringHalfY = [2.35, 2.22, 2.1, 2, 1.9, 1.82, 1.75, 1.68, 1.62, 1.56, 1.5, 1.44, 1.38, 1.3, 1.2, 1.1, 0.95];

// panel d
const legendNames = ["Attractor 1", "Attractor 2", "Attractor 3"];
const legendColors = ["#f01a1a", "#22f01a", "#1a1aee"];
const legendX = [0.97, 0.97, 0.97];
const legendY = [2.85, 2.46, 2.08];
const probMatrix = [
  ["0.8966", "0.05541", "0.04794"],
  ["0.1199", "0.7203", "0.1598"],
  ["0.03183", "0.04906", "0.9191"],
];
const probColors = [
  ["#0b5231", "#fdfdcd", "#fefece"],
  ["#f5fbb8", "#227c45", "#ecf8b0"],
  ["#ffffd6", "#fdfdcc", "#004a2a"],
];

const parula = ["#3e26a8", "#4752f4", "#2d87f7", "#11b1d6", "#37c897", "#abc739", "#fec338", "#f9fb15"];
const ylGn = ["#ffffd4", "#f7fcb9", "#d9f0a3", "#addd8e", "#78c679", "#41ab5d", "#238443", "#006837", "#004529"];

const ink = "#231f20";
const toPoints = (rows: number[][]) => rows.map((r) => ({ x: r[0], y: r[1] }));
const onGrid = (vals: number[], from: number, to: number) =>
  vals.map((y, i) => ({ x: from + (i * (to - from)) / (vals.length - 1), y }));

function parulaAt(v: number) {
  const t = Math.max(0, Math.min(1, v)) * (parula.length - 1);
  const i = Math.min(parula.length - 2, Math.floor(t));
  const mix = (a: string, b: string, k: number) => {
    const pa = parseInt(a.slice(1), 16);
    const pb = parseInt(b.slice(1), 16);
    const ch = (s: number) => Math.round(((pa >> s) & 255) * (1 - k) + ((pb >> s) & 255) * k);
    return `rgb(${ch(16)},${ch(8)},${ch(0)})`;
  };
  return mix(parula[i], parula[i + 1], t - i);
}

const noDot = () => null;

function path(key: string, data: any[], stroke: string, width = 1, extra: any = {}) {
  return (
    <Scatter
      key={key}
      data={data}
      fill="none"
      shape={noDot}
      line={{ stroke, strokeWidth: width, ...extra }}
      legendType="none"
      isAnimationActive={false}
      {...(extra.curve ? { lineJointType: extra.curve } : {})}
    />
  );
}

function dots(key: string, data: any[], r: number, fill?: (d: any) => string) {
  return (
    <Scatter
      key={key}
      data={data}
      legendType="none"
      isAnimationActive={false}
      shape={(p: any) => <circle cx={p.cx} cy={p.cy} r={r} fill={fill ? fill(p.payload) : p.payload.c} />}
    />
  );
}

// solid core drawn as ellipses; kx, ky are the panel's pixels per data unit
function cores(key: string, rows: number[][], kx: number, ky: number, k: number, fill: string) {
  return (
    <Scatter
      key={key}
      data={rows.map((r) => ({ x: r[0], y: r[1], rx: r[2] * kx * k, ry: r[3] * ky * k }))}
      legendType="none"
      isAnimationActive={false}
      shape={(p: any) => <ellipse cx={p.cx} cy={p.cy} rx={p.payload.rx} ry={p.payload.ry} fill={fill} />}
    />
  );
}

function rounded(kx: number, ky: number) {
  return (p: any) => (
    <rect x={p.x} y={p.y} width={p.width} height={p.height} rx={kx * p.width} ry={ky * p.height} fill={p.fill} stroke={p.stroke} strokeWidth={p.strokeWidth} />
  );
}

function Panel({ x0, y0, x1, y1, l = 8, r = 8, t = 8, b = 8, yl = 0, yr = 0, xb = 0, clip, children }: any) {
  return (
    <div style={{ position: "absolute", left: x0 - l, top: y0 - t, overflow: clip ? "hidden" : undefined }}>
      <ScatterChart
        width={x1 - x0 + l + r}
        height={y1 - y0 + t + b}
        margin={{ left: l - yl, right: r - yr, top: t, bottom: b - xb }}
      >
        {children}
      </ScatterChart>
    </div>
  );
}

function hiddenAxes(xd: number[], yd: number[]) {
  return (
    <>
      <XAxis hide type="number" dataKey="x" domain={xd} allowDataOverflow />
      <YAxis hide type="number" dataKey="y" domain={yd} allowDataOverflow />
    </>
  );
}

function plainAxes(xd: number[], yd: number[], xt: number[], yt: number[], fs: number, xb: number, yl: number, xm: number, ym: number) {
  const tick = { fill: "#111", fontSize: fs };
  return (
    <>
      <XAxis type="number" dataKey="x" domain={xd} ticks={xt} interval={0} allowDataOverflow height={xb} axisLine={false} tickLine={false} tickSize={0} tick={tick} tickMargin={xm} />
      <YAxis type="number" dataKey="y" domain={yd} ticks={yt} interval={0} allowDataOverflow width={yl} axisLine={false} tickLine={false} tickSize={0} tick={tick} tickMargin={ym} />
    </>
  );
}

function ColorBar({ x0, y0, x1, y1, domain, ticks, grad, fs, w, m = 4 }: any) {
  return (
    <Panel x0={x0} y0={y0} x1={x1} y1={y1} l={1} r={w} t={10} b={10} yr={w}>
      <XAxis hide type="number" dataKey="x" domain={[0, 1]} allowDataOverflow />
      <YAxis orientation="right" type="number" dataKey="y" domain={domain} ticks={ticks} interval={0} width={w} axisLine={false} tickLine={false} tickSize={0} tick={{ fill: "#111", fontSize: fs }} tickMargin={m} allowDataOverflow />
      <ReferenceArea x1={0} x2={1} y1={domain[0]} y2={domain[1]} fill={`url(#${grad})`} stroke="#8a8a8a" strokeWidth={0.8} fillOpacity={1} ifOverflow="visible" />
    </Panel>
  );
}

function T({ x, y, s = 11.5, bold, color = ink, children, rotate }: any) {
  return (
    <div
      style={{
        position: "absolute",
        left: x,
        top: y,
        transform: rotate ? "translate(-50%,-50%) rotate(-90deg)" : "translateY(-50%)",
        fontSize: s,
        fontWeight: bold ? 700 : 400,
        color,
        whiteSpace: "nowrap",
        lineHeight: 1,
      }}
    >
      {children}
    </div>
  );
}

function XSub({ x, y, n, s = 14 }: any) {
  return (
    <T x={x} y={y} s={s} color="#111">
      X<sub style={{ fontSize: s * 0.62, verticalAlign: "-0.35em", lineHeight: 0 }}>{n}</sub>
    </T>
  );
}

function arm(rows: number[][], idx: number) {
  return rows.map((r) => ({ x: r[0], y: r[1], v: r[idx] }));
}

function basin(rows: number[][], v: number) {
  return rows.map((r) => ({ x: r[0], y: r[1], v }));
}

function CellMap({ x0, y0, x1, y1, idx, scale }: any) {
  const bridges = [...leftArm, ...rightArm, ...bottomArm, ...hub];
  const color = (d: any) => parulaAt(d.v / scale);
  const kx = (x1 - x0) / 5;
  const ky = (y1 - y0) / 4;
  return (
    <>
      <Panel x0={x0} y0={y0} x1={x1} y1={y1} l={0} r={0} t={0} b={0} clip>
        {hiddenAxes([-2.5, 2.5], [-1.5, 2.5])}
        {ringHalfX.map((hx, i) => (
          <ReferenceArea key={i} x1={-hx} x2={hx} y1={0.5 - ringHalfY[i]} y2={0.5 + ringHalfY[i]} fill="none" stroke="#ee3535" strokeWidth={0.85} ifOverflow="visible" shape={rounded(0.4, 0.42)} />
        ))}
        <ReferenceArea x1={-0.25} x2={0.35} y1={0.25} y2={0.9} fill="none" stroke="#ee3535" strokeWidth={0.85} shape={rounded(0.5, 0.5)} />
      </Panel>
      <Panel x0={x0} y0={y0} x1={x1} y1={y1} l={36} r={4} t={6} b={26} yl={36} xb={26}>
        {plainAxes([-2.5, 2.5], [-1.5, 2.5], [-2, 0, 2], [-1, 0, 1, 2], 15.5, 26, 36, 10, 5)}
        {cores("ca1", coreA1, kx, ky, 1, parulaAt(coreValues.A1[idx] / scale))}
        {cores("ca2", coreA2, kx, ky, 1, parulaAt(coreValues.A2[idx] / scale))}
        {cores("ca3", coreA3, kx, ky, 1, parulaAt(coreValues.A3[idx] / scale))}
        {dots("a1", basin(cellsA1, coreValues.A1[idx]), 2.7, color)}
        {dots("a2", basin(cellsA2, coreValues.A2[idx]), 2.7, color)}
        {dots("a3", basin(cellsA3, coreValues.A3[idx]), 2.7, color)}
        {dots("arms", arm(bridges, idx + 2), 2.5, color)}
        <ReferenceArea x1={-2.5} x2={2.5} y1={-1.5} y2={2.5} fill="none" stroke="#8a8a8a" strokeWidth={1.2} ifOverflow="visible" />
      </Panel>
    </>
  );
}

export default function App() {
  const allArms = [...leftArm, ...rightArm, ...bottomArm, ...hub];
  const armGroup = (k: number) => allArms.filter((r) => r[k + 2] >= r[2] && r[k + 2] >= r[3] && r[k + 2] >= r[4]);
  const clusterPoints = (cells: number[][], k: number) => [...toPoints(cells), ...toPoints(armGroup(k))].map((p) => ({ ...p, c: legendColors[k] }));

  return (
    <div style={{ position: "absolute", left: 0, top: 0, width: 749, height: 726, background: "#fff", overflow: "hidden", fontFamily: '"Liberation Sans", Arial, sans-serif' }}>
      <svg width={0} height={0} style={{ position: "absolute" }}>
        <defs>
          <marker id="head" viewBox="0 0 10 10" refX="8" refY="5" markerWidth="11" markerHeight="9" markerUnits="userSpaceOnUse" orient="auto">
            <path d="M0 0 L10 5 L0 10 L2.5 5 Z" fill={ink} />
          </marker>
          <marker id="headSmall" viewBox="0 0 10 10" refX="8" refY="5" markerWidth="8" markerHeight="7" markerUnits="userSpaceOnUse" orient="auto-start-reverse">
            <path d="M0 0 L10 5 L0 10 L2.5 5 Z" fill={ink} />
          </marker>
          <marker id="headTiny" viewBox="0 0 10 10" refX="8" refY="5" markerWidth="5" markerHeight="5" markerUnits="userSpaceOnUse" orient="auto-start-reverse">
            <path d="M0 0 L10 5 L0 10 L2.5 5 Z" fill={ink} />
          </marker>
          <marker id="headBig" viewBox="0 0 10 10" refX="8" refY="5" markerWidth="14" markerHeight="13" markerUnits="userSpaceOnUse" orient="auto">
            <path d="M0 0 L10 5 L0 10 L2.5 5 Z" fill={ink} />
          </marker>
          <linearGradient id="parulaGrad" x1="0" y1="1" x2="0" y2="0">
            {parula.map((c, i) => <stop key={c} offset={i / (parula.length - 1)} stopColor={c} />)}
          </linearGradient>
          <linearGradient id="ylGnGrad" x1="0" y1="1" x2="0" y2="0">
            {ylGn.map((c, i) => <stop key={c} offset={i / (ylGn.length - 1)} stopColor={c} />)}
          </linearGradient>
        </defs>
      </svg>

      {/* a, bifurcation sketch */}
      <Panel x0={23.5} y0={55} x1={216} y1={176}>
        {hiddenAxes([0, 100], [0, 100])}
        {path("l1", onGrid(stateOneLight, 4.6, 48.5), "#a5cfea", 1.1)}
        {path("d1", onGrid(stateOneDark, 4.6, 48.5), "#1472b4", 1.3)}
        {path("l2", onGrid(stateTwoLight, 49.7, 87.9), "#a5cfea", 1.1)}
        {path("d2", onGrid(stateTwoDark, 49.7, 87.9), "#1472b4", 1.3)}
        {path("s", toPoints(sCurve), "#111", 1.1, { curve: "natural" })}
        <ReferenceArea x1={47.2} x2={52.6} y1={3} y2={85.7} fill="none" stroke="#d9304a" strokeWidth={1.2} />
        {path("zoom", [{ x: 48.4, y: 62 }, { x: 98.4, y: 62 }], ink, 1, { strokeDasharray: "3 2", markerEnd: "url(#head)" })}
        {path("xa", [{ x: 0, y: 0 }, { x: 100, y: 0 }], "#333", 1.1, { markerEnd: "url(#head)" })}
        {path("ya", [{ x: 0, y: 0 }, { x: 0, y: 100 }], "#333", 1.1, { markerEnd: "url(#head)" })}
      </Panel>

      {/* a, zoomed gene expression */}
      <Panel x0={241.7} y0={53} x1={441.7} y1={176.7}>
        {hiddenAxes([0, 100], [0, 100])}
        <ReferenceArea x1={38.8} x2={55.5} y1={18.1} y2={82.8} fill="none" stroke="#222" strokeWidth={0.9} strokeDasharray="2.5 2" />
        {path("gene", onGrid(geneTrace, 3.3, 90.6), "#c9142f", 1.1)}
        {path("s1", [{ x: 3.8, y: 72.8 }, { x: 37.2, y: 72.8 }], ink, 0.9, { strokeDasharray: "3 2", markerStart: "url(#headSmall)", markerEnd: "url(#headSmall)" })}
        {path("s2", [{ x: 55.7, y: 16.5 }, { x: 89, y: 16.5 }], ink, 0.9, { strokeDasharray: "3 2", markerStart: "url(#headSmall)", markerEnd: "url(#headSmall)" })}
        {path("xa", [{ x: 0, y: 0 }, { x: 100, y: 0 }], "#333", 1.1, { markerEnd: "url(#head)" })}
        {path("ya", [{ x: 0, y: 0 }, { x: 0, y: 100 }], "#333", 1.1, { markerEnd: "url(#head)" })}
      </Panel>

      {/* a, MuTrans arrow */}
      <Panel x0={375} y0={92} x1={460} y1={106}>
        {hiddenAxes([0, 1], [0, 1])}
        {path("mu", [{ x: 0, y: 0.5 }, { x: 1, y: 0.5 }], ink, 1.5, { markerEnd: "url(#headBig)" })}
      </Panel>

      {/* a, transition cell score */}
      <Panel x0={467.3} y0={38.3} x1={745} y1={178.3} r={3}>
        {hiddenAxes([0, 100], [0, 1.157])}
        <ReferenceArea x1={40.2} x2={58.2} y1={0.078} y2={1} fill="none" stroke="#222" strokeWidth={0.9} strokeDasharray="2.5 2" />
        {path("tcs", tcsX.map((x, i) => ({ x, y: tcsY[i] })), "#7a2e93", 2.3)}
        {path("s1", [{ x: 2.8, y: 0.95 }, { x: 40.2, y: 0.95 }], ink, 0.7, { strokeDasharray: "2.5 2", markerStart: "url(#headTiny)", markerEnd: "url(#headTiny)" })}
        {path("s2", [{ x: 58.6, y: 0.157 }, { x: 98.8, y: 0.157 }], ink, 0.7, { strokeDasharray: "2.5 2", markerStart: "url(#headTiny)", markerEnd: "url(#headTiny)" })}
        {path("xa", [{ x: 0, y: 0 }, { x: 100, y: 0 }], "#333", 1.1, { markerEnd: "url(#head)" })}
        {path("ya", [{ x: 0, y: 0 }, { x: 0, y: 1.157 }], "#333", 1.1, { markerEnd: "url(#head)" })}
      </Panel>

      <T x={0} y={8.6} s={17} bold color="#111">a</T>
      <T x={69} y={9} s={14}>Saddle-node Bifurcation</T>
      <T x={1.7} y={37.7} s={13.5}>Gene Expression</T>
      <T x={234} y={39} s={13.5}>Gene Expression</T>
      <T x={33} y={61} s={11.3}>Stable State 1</T>
      <T x={38} y={118} s={11.3}>Saddle</T>
      <T x={137} y={132} s={11.3}>Stable State 2</T>
      <T x={170} y={86} s={14.5}>Zoom In</T>
      <T x={168} y={187} s={13.7}>Parameter</T>
      <T x={250} y={109} s={11.5}>Stable Cells</T>
      <T x={267} y={148} s={11.5}>Transition</T>
      <T x={281} y={163} s={11.5}>Cells</T>
      <T x={373} y={136} s={11.5}>StableCells</T>
      <T x={394} y={189} s={13.7}>Parameter</T>
      <T x={387} y={85} s={15}>MuTrans</T>
      <T x={475} y={37} s={13.5}>Transition Cell Score (TCS)</T>
      <T x={458} y={59} s={13}>1</T>
      <T x={466} y={187} s={12}>0</T>
      <T x={490} y={70} s={11.5}>Stable Cells</T>
      <T x={527} y={117} s={11.5}>Transition</T>
      <T x={539} y={132} s={11.5}>Cells</T>
      <T x={661} y={153} s={11.5}>Stable Cells</T>
      <T x={680} y={189} s={13.7}>Parameter</T>

      {/* b */}
      <Panel x0={27.3} y0={228.3} x1={291.7} y1={440} l={0} r={0} t={0} b={0} clip>
        {hiddenAxes([-2.5, 2.5], [-1.5, 2.5])}
        <ReferenceArea x1={-2.5} x2={2.5} y1={-1.5} y2={2.5} fill="#f9fb15" fillOpacity={1} />
        {bandHalfX.map((hx, i) => (
          <ReferenceArea key={i} x1={-hx} x2={hx} y1={0.5 - bandHalfY[i]} y2={0.5 + bandHalfY[i]} fill={bandColors[i]} fillOpacity={1} ifOverflow="visible" shape={rounded(0.3, 0.38)} />
        ))}
      </Panel>
      <Panel x0={27.3} y0={228.3} x1={291.7} y1={440} l={27} r={3} t={4} b={24} yl={27} xb={24}>
        {plainAxes([-2.5, 2.5], [-1.5, 2.5], [-2, -1, 0, 1, 2], [-1, 0, 1, 2], 13, 24, 27, 10, 5)}
        <Scatter data={blobs} legendType="none" isAnimationActive={false} shape={(p: any) => <circle cx={p.cx} cy={p.cy} r={p.payload.r} fill="#fb0007" />} />
        {path("traj", toPoints(trajectory), "#ee1c25", 1.1)}
        {path("rim", toPoints(trajectoryRim), "#ee1c25", 1.1)}
        {path("fringe", toPoints(trajectoryFringe), "#ee1c25", 1.1)}
      </Panel>
      <ColorBar x0={297.3} y0={228.3} x1={309} y1={440} domain={[-3.41, 11.05]} ticks={potentialTicks} grad="parulaGrad" fs={13} w={28} />
      <T x={2} y={219} s={19} bold color="#111">b</T>
      <T x={73} y={218} s={13.7}>Back-and-forth Transitions</T>
      <XSub x={178} y={458} n={1} />
      <XSub x={3} y={333} n={2} />

      {/* c */}
      <Panel x0={39.5} y0={491.7} x1={310.7} y1={694.3} l={39} r={14} t={8} b={24} yl={39} xb={24}>
        <XAxis type="number" dataKey="x" domain={[0, 100]} ticks={[0, 20, 40, 60, 80, 100]} interval={0} allowDataOverflow height={24} axisLine={false} tickSize={-3} tickMargin={12} tickLine={{ stroke: "#333" }} tick={{ fill: "#111", fontSize: 13 }} />
        <YAxis type="number" dataKey="y" domain={[-2, 3]} ticks={[-2, -1, 0, 1, 2, 3]} interval={0} allowDataOverflow width={39} axisLine={false} tickSize={-3} tickMargin={7} tickLine={{ stroke: "#333" }} tick={{ fill: "#111", fontSize: 13 }} />
        {path("x1", onGrid(x1Trace, 0, 100), "#0c71b8", 1)}
        {path("x1i", onGrid(x1Inner, 0.25, 100), "#0c71b8", 1.1)}
        {path("x2", onGrid(x2Trace, 0, 100), "#dd5318", 1)}
        {path("x2i", onGrid(x2Inner, 0.25, 100), "#dd5318", 1.1)}
        <ReferenceArea x1={0} x2={100} y1={-2} y2={3} fill="none" stroke="#333" strokeWidth={0.9} ifOverflow="visible" />
      </Panel>
      <Panel x0={300} y0={540} x1={335} y1={620} l={2} r={2} t={2} b={2}>
        {hiddenAxes([0, 1], [0, 1])}
        {path("p1", [{ x: 0.79, y: 0.896 }, { x: 0.4, y: 0.73 }], ink, 0.9, { markerEnd: "url(#headSmall)" })}
        {path("p2", [{ x: 0.8, y: 0.09 }, { x: 0.24, y: 0.075 }], ink, 0.9, { markerEnd: "url(#headSmall)" })}
      </Panel>
      <T x={2} y={480} s={19} bold color="#111">c</T>
      <T x={17} y={584} s={14.7} rotate color="#111">Position</T>
      <T x={163} y={716.7} s={15.5} color="#111">Time</T>
      <XSub x={315} y={536} n={1} s={14.5} />
      <XSub x={315} y={604} n={2} s={14.5} />

      {/* d, scatter */}
      <Panel x0={360.7} y0={237.7} x1={539.3} y1={368.3} l={20} r={6} t={6} b={16} yl={20} xb={16}>
        <XAxis type="number" dataKey="x" domain={[-2, 2.1]} ticks={[-2, -1, 0, 1, 2]} interval={0} allowDataOverflow height={16} axisLine={false} tickSize={-2} tickMargin={7} tickLine={{ stroke: "#666" }} tick={{ fill: "#111", fontSize: 9.5 }} />
        <YAxis type="number" dataKey="y" domain={[-2, 3]} ticks={[-2, -1, 0, 1, 2, 3]} interval={0} allowDataOverflow width={20} axisLine={false} tickSize={-2} tickMargin={6} tickLine={{ stroke: "#666" }} tick={{ fill: "#111", fontSize: 9.5 }} />
        {cores("d1", coreA1, 43.6, 26, coreShrink[0], legendColors[0])}
        {cores("d2", coreA2, 43.6, 26, coreShrink[1], legendColors[1])}
        {cores("d3", coreA3, 43.6, 26, coreShrink[2], legendColors[2])}
        {dots("c1", clusterPoints(cellsA1, 0), 1.9)}
        {dots("c2", clusterPoints(cellsA2, 1), 1.9)}
        {dots("c3", clusterPoints(cellsA3, 2), 1.9)}
        {dots("lg", legendX.map((x, i) => ({ x, y: legendY[i], c: legendColors[i] })), 1.6)}
        <ReferenceArea x1={-2} x2={2.1} y1={-2} y2={3} fill="none" stroke="#a8a8a8" strokeWidth={1.3} ifOverflow="visible" />
      </Panel>
      {legendNames.map((name, i) => (
        <T key={name} x={493} y={241.7 + i * 10} s={8.7} bold color="#111">{name}</T>
      ))}
      <T x={340} y={219} s={19} bold color="#111">d</T>
      <T x={379} y={221} s={13.8}>Attractors Detection</T>
      <T x={557} y={221} s={13.7}>Coarse-Grained Trans. Prob.</T>
      <XSub x={460} y={380} n={1} s={15} />
      <XSub x={342} y={300} n={2} s={15} />

      {/* d, heat map */}
      <Panel x0={567.7} y0={237.3} x1={723.3} y1={368.3} l={16} r={2} t={4} b={18} yl={16} xb={18}>
        <XAxis type="number" dataKey="x" domain={[0.5, 3.5]} ticks={[1, 2, 3]} interval={0} allowDataOverflow height={18} axisLine={false} tickLine={false} tickSize={0} tick={{ fill: "#111", fontSize: 9.5 }} tickMargin={5} />
        <YAxis type="number" dataKey="y" reversed domain={[0.5, 3.5]} ticks={[1, 2, 3]} interval={0} allowDataOverflow width={16} axisLine={false} tickLine={false} tickSize={0} tick={{ fill: "#111", fontSize: 9.5 }} tickMargin={6} />
        {probMatrix.map((row, r) =>
          row.map((val, c) => (
            <ReferenceArea
              key={`${r}-${c}`}
              x1={c + 0.5}
              x2={c + 1.5}
              y1={r + 0.5}
              y2={r + 1.5}
              fill={probColors[r][c]}
              fillOpacity={1}
              stroke="#6f6f62"
              strokeWidth={0.9}
              ifOverflow="visible"
              label={{ value: val, position: "center", fontSize: 9.8, fill: parseFloat(val) > 0.5 ? "#d7e8dc" : "#222" }}
            />
          )),
        )}
      </Panel>
      <ColorBar x0={726.7} y0={237.3} x1={734} y1={368.3} domain={[0.0457, 0.9126]} ticks={[0.2, 0.4, 0.6, 0.8]} grad="ylGnGrad" fs={8.6} w={15} m={2.5} />

      {/* e */}
      <CellMap x0={375.7} y0={418.3} x1={493.7} y1={536} idx={3} scale={1.5} />
      <ColorBar x0={498.3} y0={418.3} x1={510.3} y1={536} domain={[0, 1.5]} ticks={[0, 0.5, 1, 1.5]} grad="parulaGrad" fs={15.5} w={30} />
      <CellMap x0={580.7} y0={418.3} x1={698.3} y1={536} idx={0} scale={1} />
      <ColorBar x0={703} y0={418.3} x1={715} y1={536} domain={[0, 1]} ticks={[0, 0.5, 1]} grad="parulaGrad" fs={15.5} w={30} />
      <CellMap x0={375.7} y0={583.3} x1={493.7} y1={701.7} idx={1} scale={1} />
      <ColorBar x0={498.3} y0={583.3} x1={510.3} y1={701.7} domain={[0, 1]} ticks={[0, 0.5, 1]} grad="parulaGrad" fs={15.5} w={30} />
      <CellMap x0={580.7} y0={583.3} x1={698.3} y1={701.7} idx={2} scale={1} />
      <ColorBar x0={703} y0={583.3} x1={715} y1={701.7} domain={[0, 1]} ticks={[0, 0.5, 1]} grad="parulaGrad" fs={15.5} w={30} />
      <T x={346} y={408} s={19} bold color="#111">e</T>
      <T x={379} y={405} s={13.9}>Transition Entropy</T>
      <T x={570} y={405} s={13.9}>Attractor 1 Membership</T>
      <T x={364} y={571.7} s={13.9}>Attractor 2 Membership</T>
      <T x={567} y={571.7} s={13.9}>Attractor 3 Membership</T>
    </div>
  );
}
